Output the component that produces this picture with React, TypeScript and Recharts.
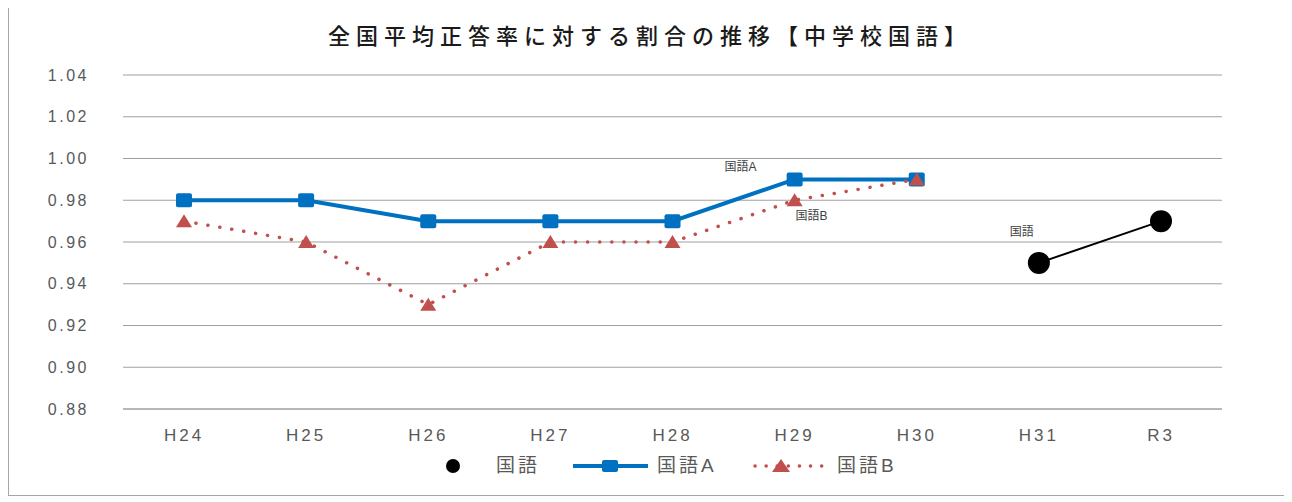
import { LineChart, Line, XAxis, YAxis, CartesianGrid, Legend } from 'recharts';

const years = ['H24', 'H25', 'H26', 'H27', 'H28', 'H29', 'H30', 'H31', 'R3'];
const kokugo = [null, null, null, null, null, null, null, 0.95, 0.97];
const kokugoA = [0.98, 0.98, 0.97, 0.97, 0.97, 0.99, 0.99, null, null];
const kokugoB = [0.97, 0.96, 0.93, 0.96, 0.96, 0.98, 0.99, null, null];
const yTicks = [0.88, 0.9, 0.92, 0.94, 0.96, 0.98, 1.0, 1.02, 1.04];

const data = years.map((y, i) => ({ year: y, k: kokugo[i], a: kokugoA[i], b: kokugoB[i] }));

const blue = '#0070C0';
const red = '#C0504D';
const tickColor = '#595959';

const tri = (props: any) => {
  const { cx, cy, index } = props;
  if (cx == null || cy == null) return <g key={index} />;
  return <path key={index} d={`M${cx},${cy - 7} L${cx + 8},${cy + 6} L${cx - 8},${cy + 6} Z`} fill={red} />;
};

const sq = (props: any) => {
  const { cx, cy, index } = props;
  if (cx == null || cy == null) return <g key={index} />;
  return <rect key={index} x={cx - 8} y={cy - 7} width={16} height={14} rx={2} fill={blue} />;
};

const seriesLabel = (text: string, at: number, dx: number, dy: number) => (props: any) => {
  const { x, y, index } = props;
  if (index !== at || x == null) return <g key={index} />;
  return (
    <text key={index} x={x + dx} y={y + dy} fontSize={12} fill="#404040" textAnchor="middle">
      {text}
    </text>
  );
};

const txt = { position: 'absolute' as const, top: 0, fontSize: 19, letterSpacing: 3, color: tickColor, lineHeight: '24px' };

const LegendContent = () => (
  <div style={{ position: 'relative', width: 1292, height: 24 }}>
    <svg width={1292} height={24} style={{ position: 'absolute', left: 0, top: 0 }}>
      <circle cx={453} cy={12} r={7} fill="#000" />
      <line x1={573} y1={12} x2={648} y2={12} stroke={blue} strokeWidth={4} />
      <rect x={602} y={6} width={16} height={12} rx={2} fill={blue} />
      <line x1={755} y1={12} x2={827} y2={12} stroke={red} strokeWidth={3.5} strokeDasharray="0.1 11" strokeLinecap="round" />
      <path d="M781,5 L790,18 L772,18 Z" fill={red} />
    </svg>
    <span style={{ ...txt, left: 496 }}>国語</span>
    <span style={{ ...txt, left: 657 }}>国語A</span>
    <span style={{ ...txt, left: 837 }}>国語B</span>
  </div>
);

export default function App() {
  return (
    <div style={{ position: 'relative', width: 1292, height: 502, marginLeft: -8, marginTop: -8, background: '#fff', fontFamily: 'Liberation Sans, "Noto Sans CJK JP", sans-serif' }}>
      <div style={{ position: 'absolute', left: 8, top: 5, width: 1276, height: 489, border: '1px solid #a6a6a6' }} />
      <div style={{ position: 'absolute', top: 18, left: 0, width: 1300, textAlign: 'center', fontSize: 22, letterSpacing: 6, color: '#1a1a1a', fontWeight: 500, fontFamily: '"Noto Sans CJK JP", sans-serif' }}>
        全国平均正答率に対する割合の推移【中学校国語】
      </div>
      <LineChart width={1292} height={502} data={data} margin={{ top: 75, right: 70, bottom: 63, left: 63 }} style={{ position: 'absolute', left: 0, top: 0 }}>
        <CartesianGrid vertical={false} stroke="#a0a0a0" strokeWidth={1.2} />
        <XAxis dataKey="year" padding={{ left: 61, right: 61 }} tickLine={false} axisLine={{ stroke: '#a0a0a0' }} tick={{ fill: tickColor, fontSize: 17, letterSpacing: 3 }} tickMargin={14} />
        <YAxis domain={[0.88, 1.04]} ticks={yTicks} interval={0} width={60} tickLine={false} axisLine={false} tick={{ fill: tickColor, fontSize: 16, letterSpacing: 2.5 }} tickFormatter={(v: number) => v.toFixed(2)} tickMargin={28} />
        <Legend layout="horizontal" verticalAlign="middle" align="center" wrapperStyle={{ top: 454, left: 0, width: 1292 }} content={<LegendContent />} />
        <Line dataKey="k" name="国語" stroke="#000" strokeWidth={2} dot={{ r: 10, fill: '#000', stroke: '#000' }} label={seriesLabel('国語', 7, -17, -27)} isAnimationActive={false} />
        <Line dataKey="a" name="国語A" stroke={blue} strokeWidth={4} dot={sq} label={seriesLabel('国語A', 5, -54, -8)} isAnimationActive={false} />
        <Line dataKey="b" name="国語B" stroke={red} strokeWidth={3.5} strokeDasharray="0.1 12" strokeLinecap="round" dot={tri} label={seriesLabel('国語B', 5, 17, 20)} isAnimationActive={false} />
      </LineChart>
    </div>
  );
}
